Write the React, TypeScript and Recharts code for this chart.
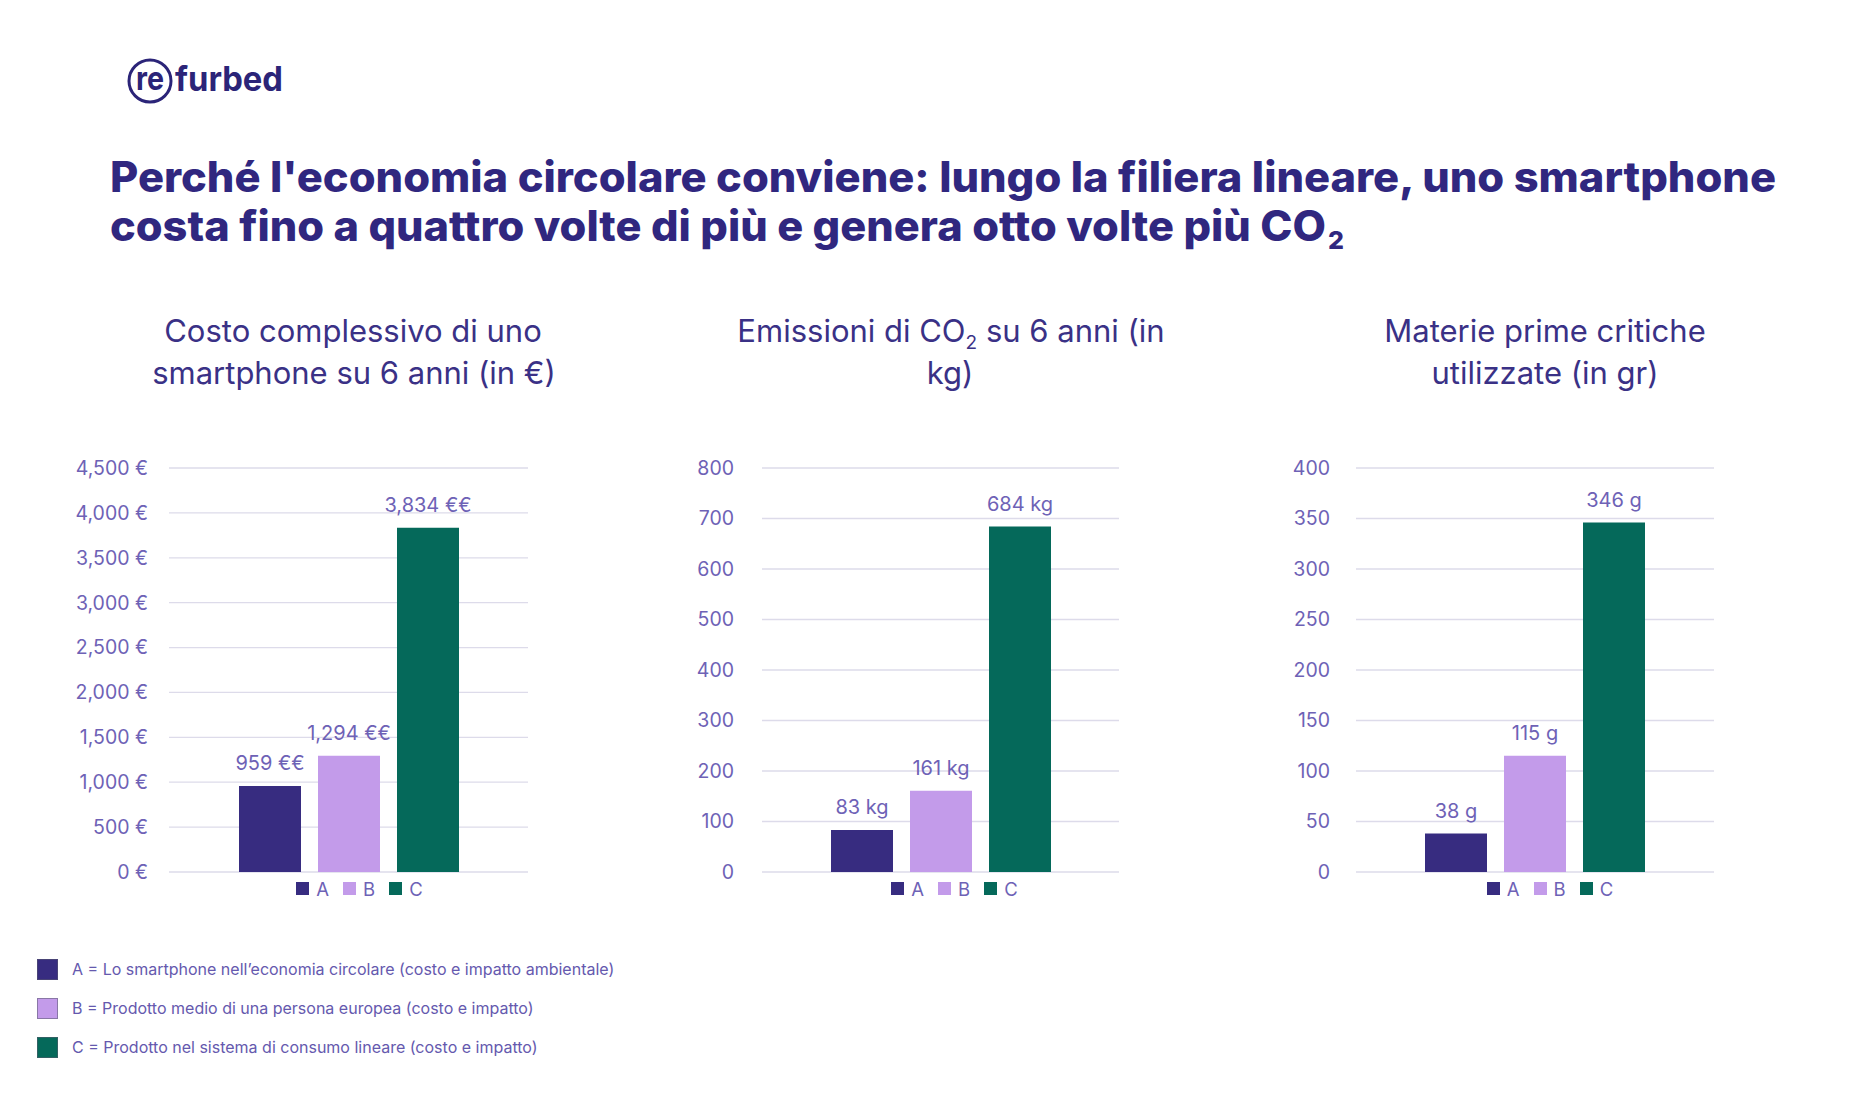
import React from 'react';
import { BarChart, Bar, XAxis, YAxis, CartesianGrid, LabelList, Legend } from 'recharts';

// ---- data ----
const SERIES_KEYS = ['A', 'B', 'C'];
const SERIES_COLORS = ['#372c80', '#c39bea', '#05695a'];
const SERIES_DESCRIPTIONS = [
  'A = Lo smartphone nell’economia circolare (costo e impatto ambientale)',
  'B = Prodotto medio di una persona europea (costo e impatto)',
  'C = Prodotto nel sistema di consumo lineare (costo e impatto)',
];

const costValues = [959, 1294, 3834];
const co2Values = [83, 161, 684];
const materialValues = [38, 115, 346];

const costTicks = [0, 500, 1000, 1500, 2000, 2500, 3000, 3500, 4000, 4500];
const co2Ticks = [0, 100, 200, 300, 400, 500, 600, 700, 800];
const materialTicks = [0, 50, 100, 150, 200, 250, 300, 350, 400];

const MAIN_TITLE_LINE_1 = "Perché l'economia circolare conviene: lungo la filiera lineare, uno smartphone";
const MAIN_TITLE_LINE_2 = 'costa fino a quattro volte di più e genera otto volte più CO';

// ---- styling ----
const FONT = 'Inter, "Noto Sans", Arial, sans-serif';
const TITLE_COLOR = '#30277f';
const SUBTITLE_COLOR = '#3a3186';
const TEXT_COLOR = '#6e62b6';
const GRID_COLOR = '#dddbea';

const CHART_TOP = 420;
const PLOT_TOP = 468;
const PLOT_BOTTOM = 872;
const CHART_H = 520;
const AXIS_W = 130;
const RIGHT_PAD = 40;

const fmt = (v: number) => v.toLocaleString('en-US');

const toRow = (values: number[]) => {
  const row: Record<string, string | number> = { name: 'smartphone' };
  SERIES_KEYS.forEach((k, i) => {
    row[k] = values[i];
  });
  return [row];
};

type PanelDef = {
  id: string;
  values: number[];
  ticks: number[];
  tickFmt: (v: number) => string;
  labelFmt: (v: number) => string;
  plotLeft: number;
  plotRight: number;
  tickGap: number;
  legendShift: number;
};

const panels: PanelDef[] = [
  {
    id: 'cost',
    values: costValues,
    ticks: costTicks,
    tickFmt: (v) => `${fmt(v)} €`,
    labelFmt: (v) => `${fmt(v)} €€`,
    plotLeft: 169,
    plotRight: 528,
    tickGap: 21,
    legendShift: 11,
  },
  {
    id: 'co2',
    values: co2Values,
    ticks: co2Ticks,
    tickFmt: (v) => `${v}`,
    labelFmt: (v) => `${v} kg`,
    plotLeft: 762,
    plotRight: 1119,
    tickGap: 28,
    legendShift: 14,
  },
  {
    id: 'materials',
    values: materialValues,
    ticks: materialTicks,
    tickFmt: (v) => `${v}`,
    labelFmt: (v) => `${v} g`,
    plotLeft: 1356,
    plotRight: 1714,
    tickGap: 26,
    legendShift: 15,
  },
];

function SeriesLegend() {
  return (
    <div
      style={{
        display: 'flex',
        justifyContent: 'center',
        alignItems: 'center',
        height: 24,
        fontFamily: FONT,
        fontSize: 18.5,
        color: TEXT_COLOR,
      }}
    >
      {SERIES_KEYS.map((k, i) => (
        <div
          key={k}
          style={{
            display: 'flex',
            alignItems: 'center',
            marginRight: i < SERIES_KEYS.length - 1 ? 14 : 0,
          }}
        >
          <span
            style={{
              display: 'inline-block',
              width: 13,
              height: 13,
              background: SERIES_COLORS[i],
              marginRight: 7,
            }}
          />
          <span>{k}</span>
        </div>
      ))}
    </div>
  );
}

function Panel({ p }: { p: PanelDef }) {
  const chartLeft = p.plotLeft - AXIS_W;
  const width = p.plotRight - p.plotLeft + AXIS_W + RIGHT_PAD;
  const plotCenter = (p.plotLeft + p.plotRight) / 2 - chartLeft;
  const legendW = 200;
  const data = toRow(p.values);
  const max = p.ticks[p.ticks.length - 1];
  return (
    <div style={{ position: 'absolute', left: chartLeft, top: CHART_TOP }}>
      <BarChart
        width={width}
        height={CHART_H}
        data={data}
        margin={{
          top: PLOT_TOP - CHART_TOP,
          right: RIGHT_PAD,
          bottom: CHART_H - (PLOT_BOTTOM - CHART_TOP),
          left: 0,
        }}
        barSize={62}
        barGap={17}
      >
        <CartesianGrid vertical={false} stroke={GRID_COLOR} strokeWidth={1.3} />
        <XAxis dataKey="name" hide />
        <YAxis
          width={AXIS_W}
          domain={[0, max]}
          ticks={p.ticks}
          interval={0}
          axisLine={false}
          tickLine={false}
          tickSize={0}
          tickMargin={p.tickGap}
          tick={{ fill: TEXT_COLOR, fontSize: 19.5, fontFamily: FONT }}
          tickFormatter={p.tickFmt}
        />
        {SERIES_KEYS.map((k, i) => (
          <Bar key={k} dataKey={k} fill={SERIES_COLORS[i]} isAnimationActive={false}>
            <LabelList
              dataKey={k}
              position="top"
              offset={16}
              formatter={(v: any) => p.labelFmt(Number(v))}
              fill={TEXT_COLOR}
              fontSize={20}
              fontFamily={FONT}
            />
          </Bar>
        ))}
        <Legend
          layout="horizontal"
          align="center"
          verticalAlign="middle"
          wrapperStyle={{
            left: plotCenter + p.legendShift - legendW / 2,
            top: PLOT_BOTTOM - CHART_TOP + 4.5,
            width: legendW,
          }}
          content={() => <SeriesLegend />}
        />
      </BarChart>
    </div>
  );
}

function Logo() {
  const ink = '#2b2478';
  return (
    <svg
      width={200}
      height={70}
      style={{ position: 'absolute', left: 120, top: 50 }}
      fontFamily={FONT}
    >
      <circle cx={30} cy={31} r={21} fill="none" stroke={ink} strokeWidth={3} />
      <text x={16} y={40} fontSize={33} fontWeight={700} fill={ink} textLength={28} lengthAdjust="spacingAndGlyphs">
        re
      </text>
      <text x={55} y={41} fontSize={34} fontWeight={700} fill={ink} textLength={108} lengthAdjust="spacingAndGlyphs">
        furbed
      </text>
    </svg>
  );
}

function Titles() {
  return (
    <svg
      width={1850}
      height={400}
      style={{ position: 'absolute', left: 0, top: 0 }}
      fontFamily={FONT}
    >
      <text x={110} y={192} fontSize={42} fontWeight={800} fill={TITLE_COLOR} textLength={1666} lengthAdjust="spacingAndGlyphs">
        {MAIN_TITLE_LINE_1}
      </text>
      <text x={110} y={241} fontSize={42} fontWeight={800} fill={TITLE_COLOR} textLength={1216} lengthAdjust="spacingAndGlyphs">
        {MAIN_TITLE_LINE_2}
      </text>
      <text x={1328} y={249} fontSize={25} fontWeight={800} fill={TITLE_COLOR}>
        2
      </text>

      <g fontSize={31} fill={SUBTITLE_COLOR} textAnchor="middle">
        <text x={353} y={342}>Costo complessivo di uno</text>
        <text x={354} y={384}>smartphone su 6 anni (in €)</text>

        <text x={951} y={342}>
          <tspan>Emissioni di CO</tspan>
          <tspan fontSize={19} dy={7}>2</tspan>
          <tspan dy={-7}> su 6 anni (in</tspan>
        </text>
        <text x={950} y={384}>kg)</text>

        <text x={1545} y={342}>Materie prime critiche</text>
        <text x={1545} y={384}>utilizzate (in gr)</text>
      </g>
    </svg>
  );
}

function DescriptionLegend() {
  const rowCenters = [969, 1008, 1047];
  return (
    <>
      {SERIES_DESCRIPTIONS.map((d, i) => (
        <div
          key={d}
          style={{
            position: 'absolute',
            left: 37,
            top: rowCenters[i] - 11,
            height: 22,
            display: 'flex',
            alignItems: 'center',
            fontFamily: FONT,
            fontSize: 16,
            color: '#6559ae',
            whiteSpace: 'nowrap',
          }}
        >
          <span
            style={{
              display: 'inline-block',
              width: 21,
              height: 21,
              background: SERIES_COLORS[i],
              border: '1px solid rgba(90,90,110,0.55)',
              boxSizing: 'border-box',
              marginRight: 14,
            }}
          />
          <span>{d}</span>
        </div>
      ))}
    </>
  );
}

export default function App() {
  return (
    <div
      style={{
        position: 'relative',
        width: 1850,
        height: 1120,
        background: '#ffffff',
        overflow: 'hidden',
        fontFamily: FONT,
      }}
    >
      <style>{'body{margin:0;}'}</style>
      <Logo />
      <Titles />
      {panels.map((p) => (
        <Panel key={p.id} p={p} />
      ))}
      <DescriptionLegend />
    </div>
  );
}
